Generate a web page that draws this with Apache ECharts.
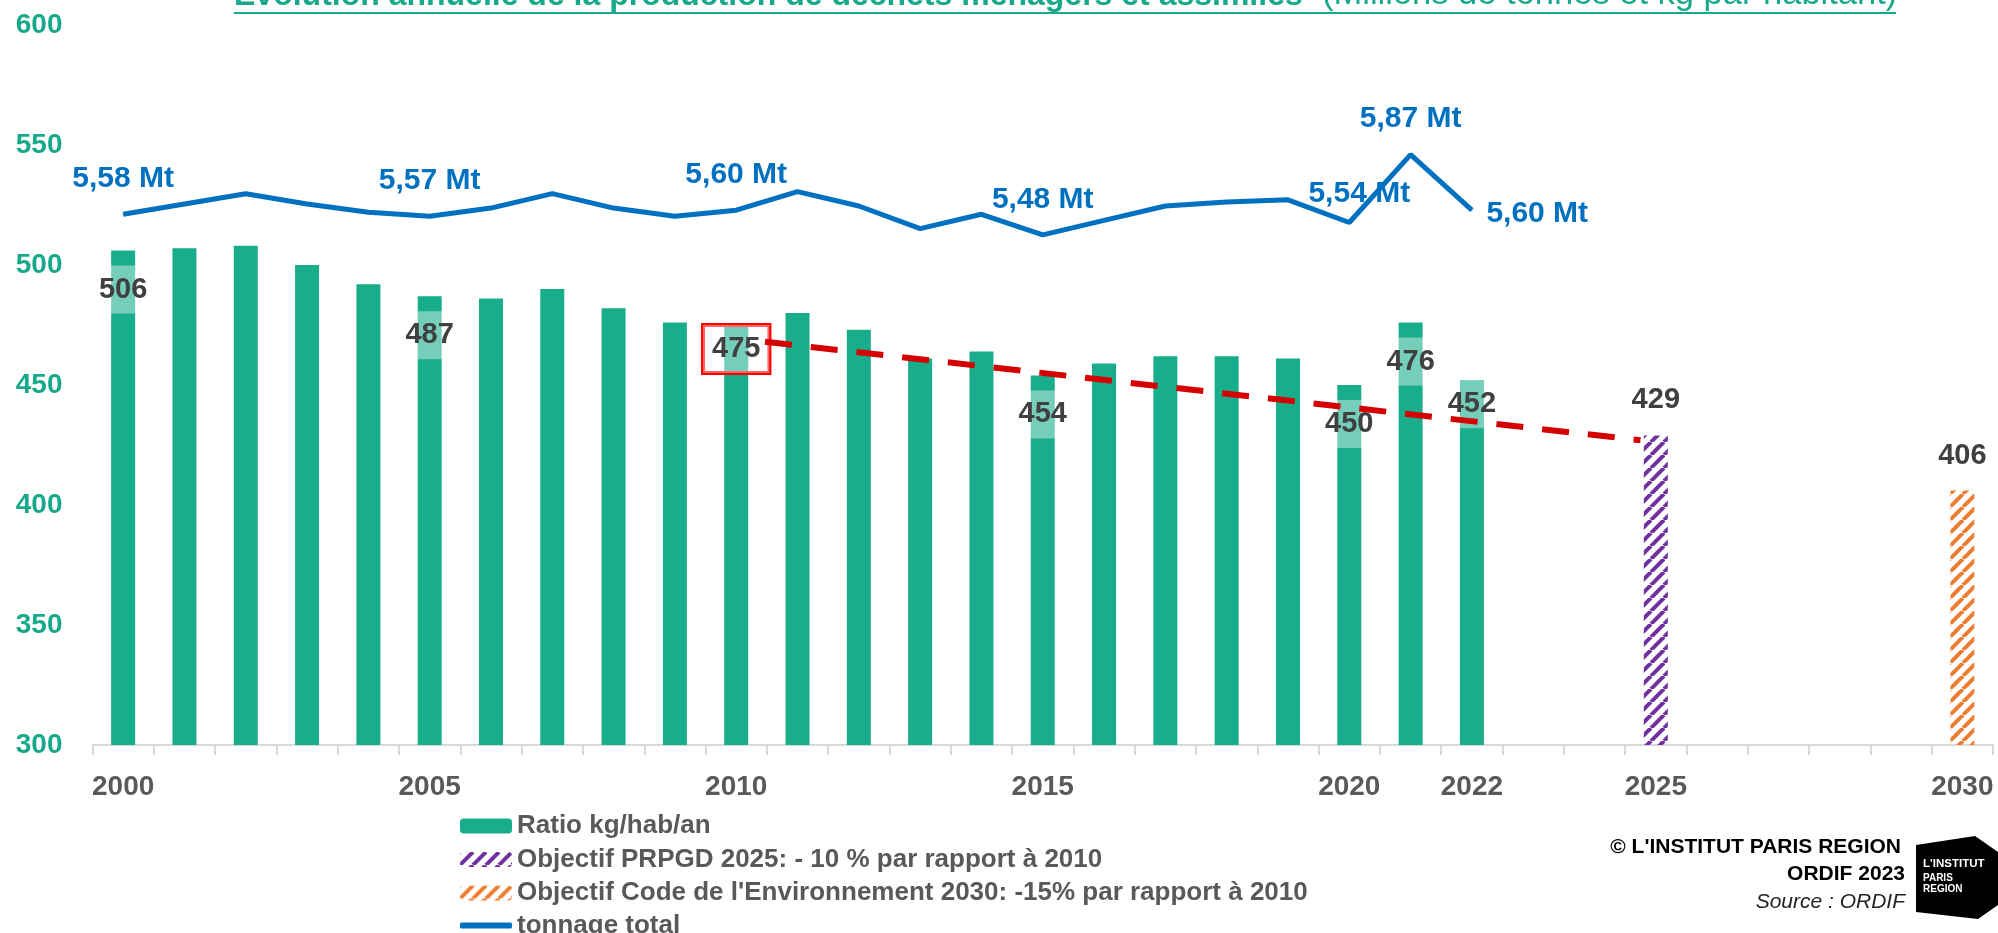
<!DOCTYPE html>
<html>
<head>
<meta charset="utf-8">
<title>Evolution annuelle de la production de déchets ménagers et assimilés</title>
<script src="https://cdn.jsdelivr.net/npm/echarts@6/dist/echarts.min.js"></script>
<style>
  html, body { margin: 0; padding: 0; background: #fff; }
  #chart { width: 1998px; height: 933px; }
</style>
</head>
<body>
<div id="chart"></div>
<script>
// one category per year
const years = ['2000', '2001', '2002', '2003', '2004', '2005', '2006', '2007', '2008', '2009',
  '2010', '2011', '2012', '2013', '2014', '2015', '2016', '2017', '2018', '2019',
  '2020', '2021', '2022', '2023', '2024', '2025', '2026', '2027', '2028', '2029', '2030'];
const yearLabels = ['2000', '2005', '2010', '2015', '2020', '2022', '2025', '2030'];

// kg / habitant / an, 2000 -> 2022
const ratio = [506, 507, 508, 500, 492, 487, 486, 490, 482, 476, 475, 480, 473, 461, 464,
  454, 459, 462, 462, 461, 450, 476, 452];
const ratioLabelYears = ['2000', '2005', '2010', '2015', '2020', '2021', '2022'];

// objectifs
const target2025 = 429;
const target2030 = 406;

// tonnage total (Mt), 2000 -> 2022
const tonnage = [5.58, 5.63, 5.68, 5.63, 5.59, 5.57, 5.61, 5.68, 5.61, 5.57, 5.60, 5.69, 5.62,
  5.51, 5.58, 5.48, 5.55, 5.62, 5.64, 5.65, 5.54, 5.87, 5.60];
const tonnageLabelYears = ['2000', '2005', '2010', '2015', '2020', '2021', '2022'];

// y axis (kg/hab)
const yMin = 300, yMax = 600, yStep = 50;

// red trend arrow, in (year, kg/hab)
const trendFrom = [2010.47, 468];
const trendTo = [2024.75, 427];

const names = ['Ratio kg/hab/an',
  'Objectif PRPGD 2025: - 10 % par rapport à 2010',
  "Objectif Code de l'Environnement 2030: -15% par rapport à 2010",
  'tonnage total'];

const FONT = "'Liberation Sans', Arial, sans-serif";
const GREEN = '#18AD8B';
const BLUE = '#0070C0';

function hatch(color) {
  const c = document.createElement('canvas');
  c.width = 13; c.height = 13;
  const ctx = c.getContext('2d');
  ctx.strokeStyle = color;
  ctx.lineWidth = 4;
  for (let k = -1; k <= 1; k++) {
    ctx.beginPath();
    ctx.moveTo(k * 13, 13);
    ctx.lineTo(k * 13 + 13, 0);
    ctx.stroke();
  }
  return { image: c, repeat: 'repeat' };
}

const ratioData = ratio.map((v, i) => {
  const yr = years[i];
  if (!ratioLabelYears.includes(yr)) return v;
  const label = { show: true };
  if (yr === '2010' || yr === '2022') label.distance = 0;
  if (yr === '2010') { label.borderColor = '#FF0000'; label.borderWidth = 2; }
  return { value: v, label };
});

const tonnageData = tonnage.map((v, i) => {
  const yr = years[i];
  if (!tonnageLabelYears.includes(yr)) return v;
  const label = { show: true };
  if (yr === '2020') label.offset = [10, 7];
  if (yr === '2022') { label.position = 'right'; label.distance = 14; label.offset = [0, 4]; }
  return { value: v, label };
});

const legendText = { color: '#595959', fontWeight: 'bold', fontSize: 26, lineHeight: 30 };

const chart = echarts.init(document.getElementById('chart'));

const option = {
  animation: false,
  textStyle: { fontFamily: FONT },
  grid: { left: 92.5, right: 5, top: 25, bottom: 188 },
  legend: [{
    orient: 'vertical',
    left: 455,
    top: 806,
    itemWidth: 52,
    itemHeight: 15,
    itemGap: 3.5,
    selectedMode: false,
    data: names.slice(0, 3),
    textStyle: legendText
  }, {
    orient: 'vertical',
    left: 455,
    top: 905.5,
    itemWidth: 52,
    itemHeight: 6,
    icon: 'roundRect',
    selectedMode: false,
    data: [names[3]],
    textStyle: legendText
  }],
  xAxis: [{
    type: 'category',
    data: years,
    axisLine: { lineStyle: { color: '#D9D9D9', width: 2 } },
    axisTick: { show: true, interval: 0, length: 10, lineStyle: { color: '#D9D9D9', width: 2 } },
    axisLabel: {
      interval: 0, margin: 28, color: '#595959', fontWeight: 'bold', fontSize: 28,
      formatter: v => yearLabels.includes(v) ? v : ''
    },
    splitLine: { show: false }
  }, {
    type: 'value', min: 1999.5, max: 2030.5, show: false
  }],
  yAxis: [{
    type: 'value', min: yMin, max: yMax, interval: yStep,
    axisLine: { show: false }, axisTick: { show: false }, splitLine: { show: false },
    axisLabel: { color: '#18A98A', fontWeight: 'bold', fontSize: 28, margin: 30 }
  }, {
    type: 'value', min: 3, max: 6.5, show: false
  }],
  series: [{
    name: names[0],
    type: 'bar',
    barWidth: 24,
    barGap: '-100%',
    itemStyle: { color: GREEN },
    label: {
      show: false, position: 'insideTop', distance: 15,
      color: '#404040', fontWeight: 'bold', fontSize: 29, lineHeight: 30,
      backgroundColor: 'rgba(255,255,255,0.4)', padding: [9, 9]
    },
    data: ratioData
  }, {
    name: names[1],
    type: 'bar',
    barWidth: 24,
    barGap: '-100%',
    itemStyle: { color: hatch('#7030A0') },
    label: { show: true, position: 'top', distance: 20, color: '#404040', fontWeight: 'bold', fontSize: 29, lineHeight: 30 },
    data: years.map(y => y === '2025' ? target2025 : '-')
  }, {
    name: names[2],
    type: 'bar',
    barWidth: 24,
    barGap: '-100%',
    itemStyle: { color: hatch('#ED7D31') },
    label: { show: true, position: 'top', distance: 20, color: '#404040', fontWeight: 'bold', fontSize: 29, lineHeight: 30 },
    data: years.map(y => y === '2030' ? target2030 : '-')
  }, {
    name: names[3],
    type: 'line',
    yAxisIndex: 1,
    symbol: 'circle',
    symbolSize: 1,
    showSymbol: true,
    lineStyle: { color: BLUE, width: 5 },
    itemStyle: { color: BLUE },
    label: {
      show: false, position: 'top', distance: 20,
      color: BLUE, fontWeight: 'bold', fontSize: 30, lineHeight: 30,
      formatter: p => p.value.toFixed(2).replace('.', ',') + ' Mt'
    },
    data: tonnageData
  }, {
    name: 'tendance',
    type: 'line',
    xAxisIndex: 1,
    yAxisIndex: 0,
    data: [],
    z: 5,
    markLine: {
      silent: true,
      symbol: ['none', 'triangle'],
      symbolSize: [0, 20],
      label: { show: false },
      lineStyle: { color: '#D50000', width: 6, type: [27, 19] },
      data: [[{ coord: trendFrom }, { coord: trendTo }]]
    }
  }],
  graphic: [
    {
      type: 'text', x: 234, y: 12,
      style: {
        text: 'Evolution annuelle de la production de déchets ménagers et assimilés',
        fontFamily: FONT, fontSize: 32, fontWeight: 'bold', fill: '#18A98A',
        align: 'left', verticalAlign: 'bottom'
      }
    },
    {
      type: 'text', x: 1322, y: 12,
      style: {
        text: '(Millions de tonnes et kg par habitant)',
        fontFamily: FONT, fontSize: 34.5, fill: '#18A98A',
        align: 'left', verticalAlign: 'bottom'
      }
    },
    {
      type: 'line', shape: { x1: 234, y1: 13, x2: 1896, y2: 13 },
      style: { stroke: '#18A98A', lineWidth: 2 }
    },
    {
      type: 'text', x: 1901, y: 847,
      style: { text: "© L'INSTITUT PARIS REGION", fontFamily: FONT, fontSize: 21, fontWeight: 'bold',
        fill: '#000', align: 'right', verticalAlign: 'middle' }
    },
    {
      type: 'text', x: 1905, y: 874,
      style: { text: 'ORDIF 2023', fontFamily: FONT, fontSize: 21, fontWeight: 'bold',
        fill: '#000', align: 'right', verticalAlign: 'middle' }
    },
    {
      type: 'text', x: 1905, y: 902,
      style: { text: 'Source : ORDIF', fontFamily: FONT, fontSize: 21, fontStyle: 'italic',
        fill: '#222', align: 'right', verticalAlign: 'middle' }
    },
    {
      type: 'polygon',
      shape: { points: [[1916, 845], [1975, 836], [1998, 852], [1998, 905], [1978, 919], [1916, 912]] },
      style: { fill: '#000' }
    },
    {
      type: 'text', x: 1923, y: 864,
      style: { text: "L'INSTITUT", fontFamily: FONT, fontSize: 11.5, fontWeight: 'bold',
        fill: '#fff', align: 'left', verticalAlign: 'middle' }
    },
    {
      type: 'text', x: 1923, y: 878,
      style: { text: 'PARIS', fontFamily: FONT, fontSize: 10, fontWeight: 'bold',
        fill: '#fff', align: 'left', verticalAlign: 'middle' }
    },
    {
      type: 'text', x: 1923, y: 889,
      style: { text: 'REGION', fontFamily: FONT, fontSize: 10, fontWeight: 'bold',
        fill: '#fff', align: 'left', verticalAlign: 'middle' }
    }
  ]
};

chart.setOption(option);
</script>
</body>
</html>
